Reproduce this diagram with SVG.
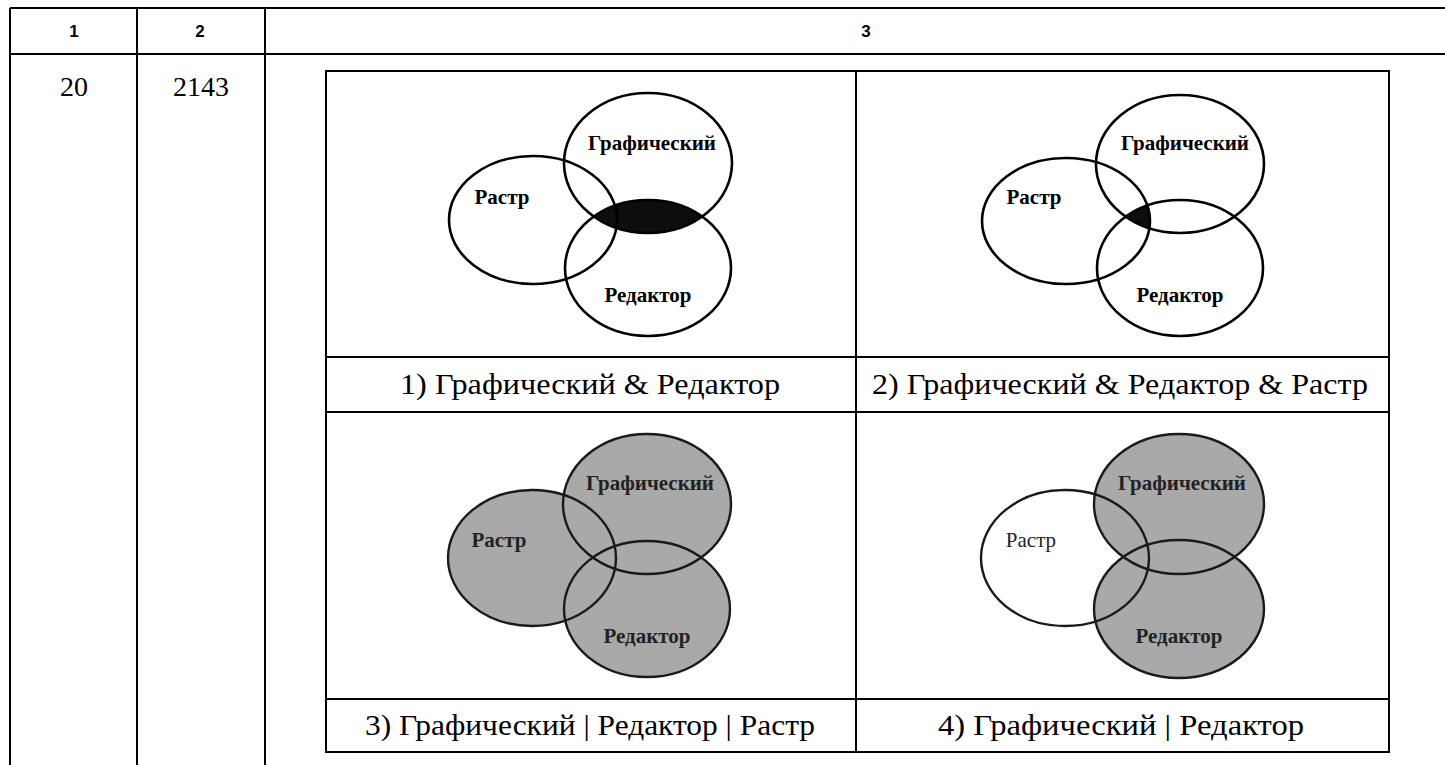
<svg xmlns="http://www.w3.org/2000/svg" width="1445" height="765" viewBox="0 0 1445 765">
<style>
.ln{stroke:#000;stroke-width:2;fill:none}
.el{stroke:#000;stroke-width:2.6;fill:none}
.elg{stroke:#1a1a1a;stroke-width:2.4;fill:none}
.gf{fill:#a9a9a9;stroke:none}
.hd{font-family:"Liberation Sans",Arial,sans-serif;font-weight:bold;font-size:17px;fill:#000;text-anchor:middle}
.num{font-family:"Liberation Serif","Times New Roman",serif;font-size:28px;fill:#000;text-anchor:middle}
.vl{font-family:"Liberation Serif","Times New Roman",serif;font-weight:bold;font-size:21px;fill:#000;text-anchor:middle}
.vlg{font-family:"Liberation Serif","Times New Roman",serif;font-weight:bold;font-size:21px;fill:#222;text-anchor:middle}
.vlr{font-family:"Liberation Serif","Times New Roman",serif;font-size:21px;fill:#222;text-anchor:middle}
.cap{font-family:"Liberation Serif","Times New Roman",serif;font-size:30px;fill:#000;text-anchor:middle}
</style>
<defs>
<clipPath id="clipG1"><ellipse cx="648" cy="163" rx="84" ry="70"/></clipPath>
<clipPath id="clipG2"><ellipse cx="1180" cy="164" rx="84" ry="69"/></clipPath>
<clipPath id="clipR2"><ellipse cx="1066" cy="221" rx="84" ry="63"/></clipPath>
</defs>

<g id="table">
<line class="ln" x1="10" y1="8" x2="1445" y2="8"/>
<line class="ln" x1="10" y1="54" x2="1445" y2="54"/>
<line class="ln" x1="10" y1="8" x2="10" y2="765"/>
<line class="ln" x1="137" y1="8" x2="137" y2="765"/>
<line class="ln" x1="265" y1="8" x2="265" y2="765"/>
<text class="hd" x="74" y="37">1</text>
<text class="hd" x="200" y="37">2</text>
<text class="hd" x="866" y="37">3</text>
<text class="num" x="74" y="96">20</text>
<text class="num" x="201" y="96">2143</text>
</g>

<g id="grid">
<rect class="ln" x="326" y="71" width="1063" height="681"/>
<line class="ln" x1="856" y1="71" x2="856" y2="752"/>
<line class="ln" x1="326" y1="357" x2="1389" y2="357"/>
<line class="ln" x1="326" y1="412" x2="1389" y2="412"/>
<line class="ln" x1="326" y1="699" x2="1389" y2="699"/>
</g>

<g id="panel1">
<ellipse cx="648" cy="268" rx="83" ry="68" fill="#0d0d0d" clip-path="url(#clipG1)"/>
<ellipse class="el" cx="533" cy="220" rx="84" ry="64"/>
<ellipse class="el" cx="648" cy="163" rx="84" ry="70"/>
<ellipse class="el" cx="648" cy="268" rx="83" ry="68"/>
<text class="vl" x="652" y="150">Графический</text>
<text class="vl" x="502" y="204">Растр</text>
<text class="vl" x="648" y="302">Редактор</text>
<text class="cap" x="590" y="394" textLength="380" lengthAdjust="spacingAndGlyphs">1) Графический &amp; Редактор</text>
</g>

<g id="panel2">
<g clip-path="url(#clipG2)"><ellipse cx="1180" cy="268" rx="83" ry="68" fill="#0d0d0d" clip-path="url(#clipR2)"/></g>
<ellipse class="el" cx="1066" cy="221" rx="84" ry="63"/>
<ellipse class="el" cx="1180" cy="164" rx="84" ry="69"/>
<ellipse class="el" cx="1180" cy="268" rx="83" ry="68"/>
<text class="vl" x="1185" y="150">Графический</text>
<text class="vl" x="1034" y="204">Растр</text>
<text class="vl" x="1180" y="302">Редактор</text>
<text class="cap" x="1120" y="394" textLength="496" lengthAdjust="spacingAndGlyphs">2) Графический &amp; Редактор &amp; Растр</text>
</g>

<g id="panel3">
<ellipse class="gf" cx="532" cy="558" rx="84" ry="68"/>
<ellipse class="gf" cx="647" cy="504" rx="84" ry="70"/>
<ellipse class="gf" cx="647" cy="609" rx="83" ry="68"/>
<ellipse class="elg" cx="532" cy="558" rx="84" ry="68"/>
<ellipse class="elg" cx="647" cy="504" rx="84" ry="70"/>
<ellipse class="elg" cx="647" cy="609" rx="83" ry="68"/>
<text class="vlg" x="650" y="490">Графический</text>
<text class="vlg" x="499" y="547">Растр</text>
<text class="vlg" x="647" y="643">Редактор</text>
<text class="cap" x="590" y="735" textLength="450" lengthAdjust="spacingAndGlyphs">3) Графический | Редактор | Растр</text>
</g>

<g id="panel4">
<ellipse class="gf" cx="1179" cy="504" rx="85" ry="70"/>
<ellipse class="gf" cx="1179" cy="609" rx="85" ry="69"/>
<ellipse class="elg" cx="1065" cy="558" rx="84" ry="68"/>
<ellipse class="elg" cx="1179" cy="504" rx="85" ry="70"/>
<ellipse class="elg" cx="1179" cy="609" rx="85" ry="69"/>
<text class="vlg" x="1182" y="490">Графический</text>
<text class="vlr" x="1031" y="547">Растр</text>
<text class="vlg" x="1179" y="643">Редактор</text>
<text class="cap" x="1121" y="735" textLength="366" lengthAdjust="spacingAndGlyphs">4) Графический | Редактор</text>
</g>
</svg>
